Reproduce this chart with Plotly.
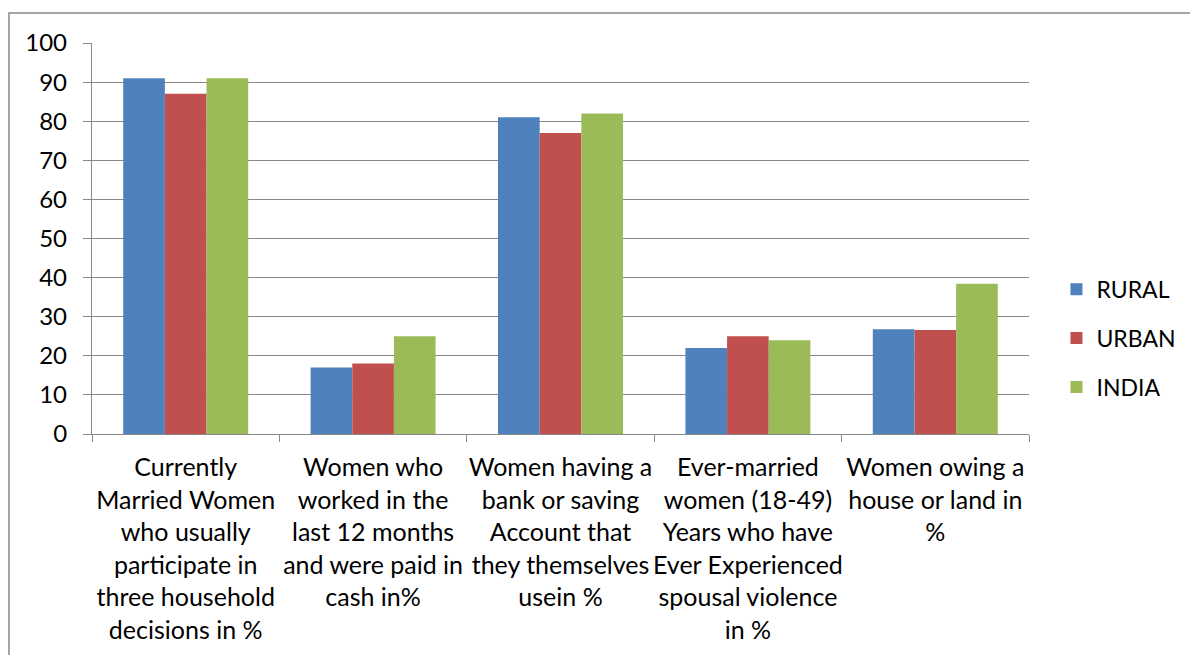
import plotly.graph_objects as go

categories = [
    "Currently<br>Married Women<br>who usually<br>participate in<br>three household<br>decisions in %",
    "Women who<br>worked in the<br>last 12 months<br>and were paid in<br>cash in%",
    "Women having a<br>bank or saving<br>Account that<br>they themselves<br>usein %",
    "Ever-married<br>women (18-49)<br>Years who have<br>Ever Experienced<br>spousal violence<br>in %",
    "Women owing a<br>house or land in<br>%",
]
rural = [91, 17, 81, 22, 26.8]
urban = [87, 18, 77, 25, 26.6]
india = [91, 25, 82, 24, 38.4]

series = [("RURAL", rural, "#4F81BD"), ("URBAN", urban, "#C0504D"), ("INDIA", india, "#9BBB59")]

FONT = "Lato"
GRID = "#898989"

fig = go.Figure()
for name, vals, color in series:
    fig.add_trace(go.Bar(
        name=name, x=categories, y=vals, marker_color=color,
        marker_line_width=0, legendgroup=name,
    ))

fig.update_layout(
    width=1190, height=655,
    margin=dict(l=92, r=161, t=43, b=221, autoexpand=False),
    paper_bgcolor="white", plot_bgcolor="white",
    barmode="group", bargap=0.333, bargroupgap=0,
    font=dict(family=FONT, size=24, color="black"),
    legend=dict(
        x=1.0293, y=0.245, xanchor="left", yanchor="middle",
        traceorder="grouped", tracegroupgap=16,
        font=dict(family=FONT, size=23), itemwidth=30,
    ),
    showlegend=True,
)
fig.update_xaxes(
    type="category", tickson="boundaries", ticks="outside", ticklen=7,
    tickcolor=GRID, tickwidth=1.3, showline=True, linecolor=GRID, linewidth=1.3,
    showgrid=False, tickangle=0, tickfont=dict(family=FONT, size=25),
    ticklabelstandoff=11, automargin=False,
)
fig.update_yaxes(
    range=[0, 100], dtick=10, ticks="outside", ticklen=8, tickcolor=GRID,
    tickwidth=1.3, showline=True, linecolor=GRID, linewidth=1.3,
    showgrid=True, gridcolor=GRID, gridwidth=1.3, zeroline=False,
    ticklabelstandoff=11, tickfont=dict(family=FONT, size=24), automargin=False,
)
# Outer chart frame
fig.add_shape(
    type="rect", xref="paper", yref="paper",
    x0=-0.0886, y0=-0.7, x1=1.3, y1=1.0767,
    line=dict(color=GRID, width=1.5), fillcolor="rgba(0,0,0,0)", layer="below",
)

fig.write_html("out.html")
